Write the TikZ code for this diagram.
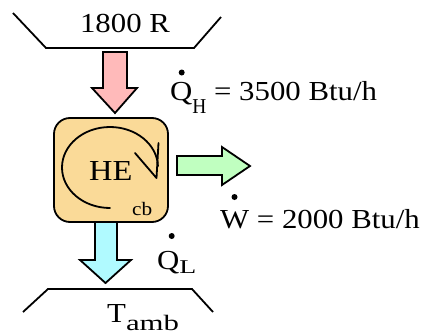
\documentclass[tikz,border=0pt]{standalone}
\usepackage{fontspec}
\setmainfont[FakeStretch=1.12]{Liberation Serif}
\usepackage{graphicx}
\usetikzlibrary{arrows.meta}
\definecolor{hotfill}{RGB}{255,186,186}
\definecolor{workfill}{RGB}{192,255,192}
\definecolor{coldfill}{RGB}{176,250,255}
\definecolor{enginefill}{RGB}{250,218,152}
\newcommand\mysub[4]{\raisebox{#1}{\scalebox{#2}[#3]{#4}}}
\begin{document}
\begin{tikzpicture}[x=1pt,y=-1pt,
  txt/.style={inner sep=0pt,anchor=base west,font=\fontsize{27.5}{27.5}\selectfont},
  res/.style={line width=1.8pt,line join=miter},
  flow/.style={line width=1.8pt,line join=miter},
  cycleline/.style={line width=1.8pt,line cap=round,line join=round},
  dotmark/.style={fill=black}]
\useasboundingbox (0,0) rectangle (429,335);
% reservoirs
\draw[res] (13,13) -- (46,48) -- (194,48) -- (221,17);
\draw[res] (23,312) -- (48,289) -- (192,289) -- (213,312);
\node[txt,anchor=base] (hot) at (125,32) {1800 R};
\node[txt] (cold) at (107,322) {T\mysub{-8pt}{1}{0.8}{amb}};
% heat in arrow
\draw[flow,fill=hotfill] (103,52) -- (127,52) -- (127,88) -- (137,88) -- (115,113) -- (92,88) -- (103,88) -- cycle;
% engine
\node[draw,line width=1.8pt,fill=enginefill,rounded corners=16pt,minimum width=114pt,minimum height=104pt,inner sep=0pt] (eng) at (111,170) {};
\node[txt,font=\fontsize{29}{29}\selectfont] (he) at (89,180) {HE};
\node[inner sep=0pt,anchor=base west,font=\fontsize{19}{19}\selectfont] (cb) at (132,215) {cb};
\draw[cycleline] (110,208) arc[start angle=90,end angle=358,x radius=48,y radius=40.5];
\coordinate (tip) at (156.5,178);
\draw[cycleline] (135,153) -- (tip) -- (158.5,143);
% work arrow
\draw[flow,fill=workfill] (177,156) -- (222,156) -- (222,147) -- (250,166) -- (222,185) -- (222,175) -- (177,175) -- cycle;
% heat out arrow
\draw[flow,fill=coldfill] (95,222) -- (117,222) -- (117,260) -- (131,260) -- (105.5,283) -- (80,260) -- (95,260) -- cycle;
% labels
\node[txt] (qh) at (170,100) {Q\mysub{-13pt}{0.63}{0.77}{H} = 3500 Btu/h};
\fill[dotmark] (181.7,72.5) circle (3pt);
\node[txt] (w) at (220,228) {W = 2000 Btu/h};
\fill[dotmark] (234.5,197) circle (3pt);
\node[txt] (ql) at (157,269) {Q\mysub{-4pt}{0.9}{0.71}{L}};
\fill[dotmark] (171.7,236) circle (3pt);
\end{tikzpicture}
\end{document}
